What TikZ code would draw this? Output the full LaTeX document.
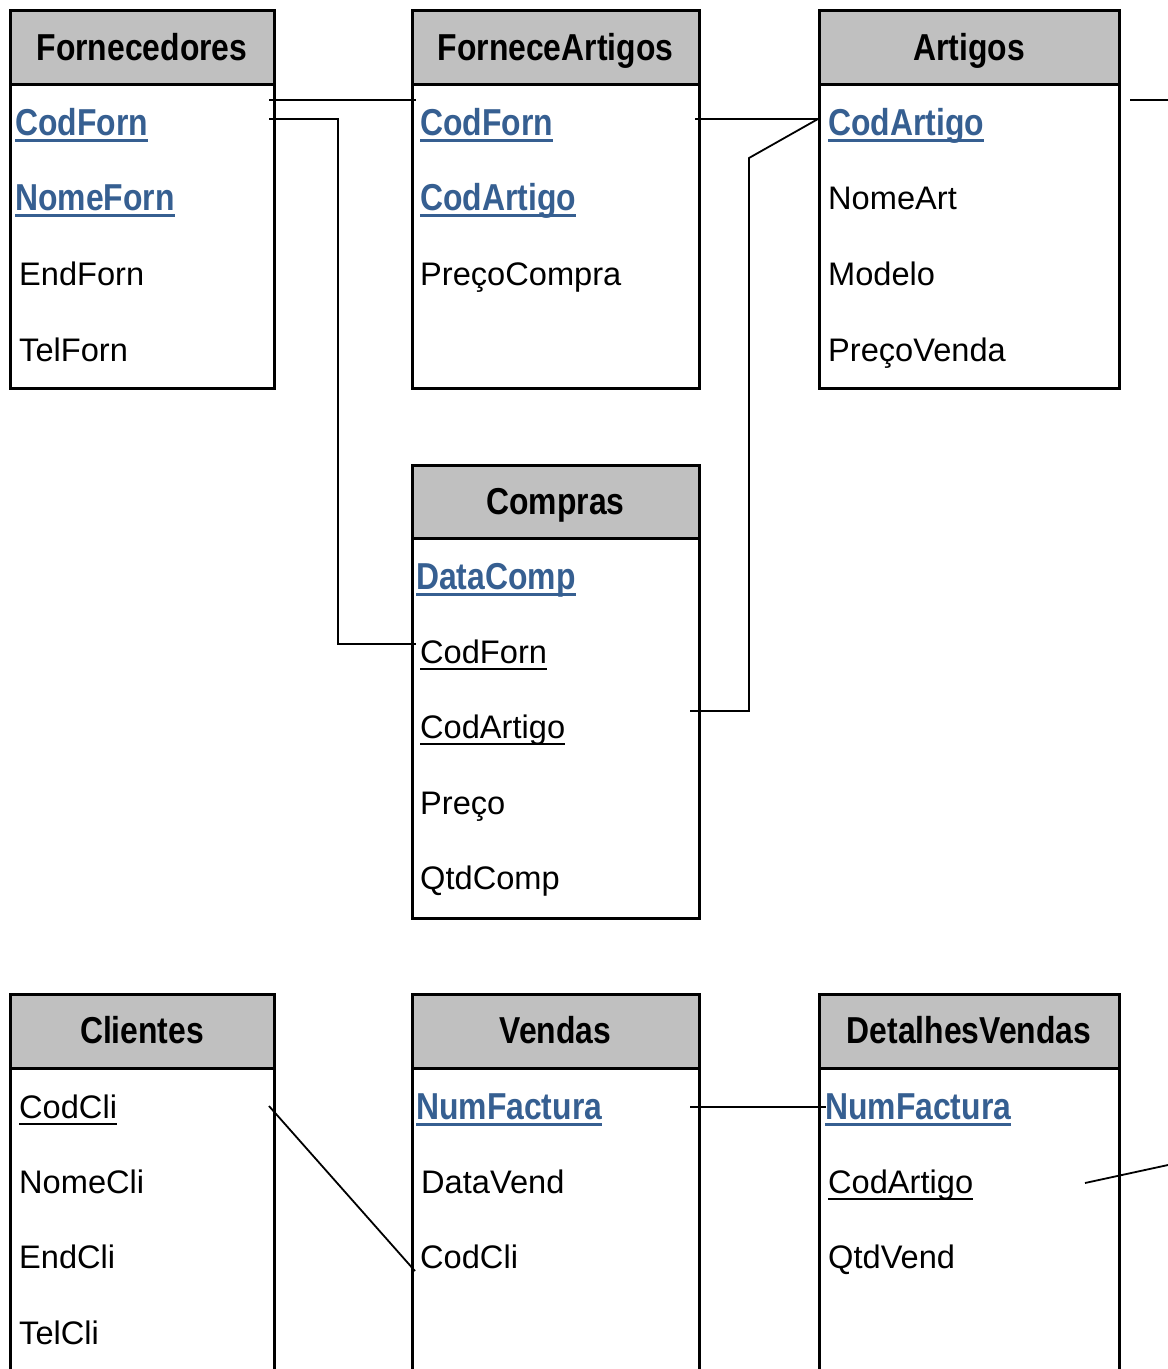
\documentclass[tikz,border=0pt]{standalone}
\usepackage{fontspec}
\setmainfont{Liberation Sans}
\newfontfamily\condfont[FakeStretch=0.85]{Liberation Sans}
\definecolor{hdrgray}{RGB}{192,192,192}
\definecolor{keyblue}{RGB}{54,95,145}
\newcommand\regfont{\fontsize{32.6}{38}\selectfont}
\newcommand\boldfont{\condfont\bfseries\fontsize{37.5}{44}\selectfont}
\tikzset{
  tbl/.style={draw, line width=3pt},
  hdr/.style={draw, fill=hdrgray, line width=3pt},
  title/.style={anchor=base, inner sep=0pt, font=\boldfont},
  fld/.style={anchor=base west, inner sep=0pt, font=\regfont},
  key/.style={anchor=base west, inner sep=0pt, font=\boldfont, text=keyblue},
  keyul/.style={draw=keyblue, line width=3pt},
  fkul/.style={draw=black, line width=2pt},
  conn/.style={line width=1.8pt}
}
\begin{document}
\begin{tikzpicture}[x=1pt,y=-1pt]
\useasboundingbox (0,0) rectangle (1168,1369);
\begin{scope}
\clip (0,0) rectangle (1168,1369);
% ---------- Fornecedores
\draw[hdr] (10,10.5) rectangle (274,84);
\draw[tbl] (10,10.5) rectangle (274,388);
\node[title] (tF) at (142,60) {Fornecedores};
\node[key] (fF1) at (15,135) {CodForn};
\node[key] (fF2) at (15,210) {NomeForn};
\node[fld] (fF3) at (19,285) {EndForn};
\node[fld] (fF4) at (19,361) {TelForn};
% ---------- ForneceArtigos
\draw[hdr] (412,10.5) rectangle (699,84);
\draw[tbl] (412,10.5) rectangle (699,388);
\node[title] (tFA) at (555.5,60) {ForneceArtigos};
\node[key] (fA1) at (420,135) {CodForn};
\node[key] (fA2) at (420,210) {CodArtigo};
\node[fld] (fA3) at (420,285) {PreçoCompra};
% ---------- Artigos
\draw[hdr] (819,10.5) rectangle (1119,84);
\draw[tbl] (819,10.5) rectangle (1119,388);
\node[title] (tAr) at (969,60) {Artigos};
\node[key] (fR1) at (828,135) {CodArtigo};
\node[fld] (fR2) at (828,209) {NomeArt};
\node[fld] (fR3) at (828,285) {Modelo};
\node[fld] (fR4) at (828,361) {PreçoVenda};
% ---------- Compras
\draw[hdr] (412,465) rectangle (699,538.5);
\draw[tbl] (412,465) rectangle (699,918);
\node[title] (tC) at (555.5,514) {Compras};
\node[key] (fC1) at (416,589) {DataComp};
\node[fld] (fC2) at (420,663) {CodForn};
\node[fld] (fC3) at (420,738) {CodArtigo};
\node[fld] (fC4) at (420,814) {Preço};
\node[fld] (fC5) at (420,889) {QtdComp};
% ---------- Clientes
\draw[hdr] (10,994) rectangle (274,1068);
\draw[tbl] (10,994) rectangle (274,1420);
\node[title] (tCl) at (142,1043) {Clientes};
\node[fld] (fL1) at (19,1118) {CodCli};
\node[fld] (fL2) at (19,1193) {NomeCli};
\node[fld] (fL3) at (19,1268) {EndCli};
\node[fld] (fL4) at (19,1344) {TelCli};
% ---------- Vendas
\draw[hdr] (412,994) rectangle (699,1068);
\draw[tbl] (412,994) rectangle (699,1420);
\node[title] (tV) at (555.5,1043) {Vendas};
\node[key] (fV1) at (416,1119) {NumFactura};
\node[fld] (fV2) at (421,1193) {DataVend};
\node[fld] (fV3) at (420,1268) {CodCli};
% ---------- DetalhesVendas
\draw[hdr] (819,994) rectangle (1119,1068);
\draw[tbl] (819,994) rectangle (1119,1420);
\node[title] (tD) at (969,1043) {DetalhesVendas};
\node[key] (fD1) at (825,1119) {NumFactura};
\node[fld] (fD2) at (828,1193) {CodArtigo};
\node[fld] (fD3) at (828,1268) {QtdVend};
% ---------- underlines
\foreach \n in {fF1,fF2,fA1,fA2,fR1,fC1,fV1,fD1}
  \draw[keyul] ([yshift=-5.5pt]\n.base west) -- ([yshift=-5.5pt]\n.base east);
\foreach \n in {fC2,fC3,fL1,fD2}
  \draw[fkul] ([yshift=-5.5pt]\n.base west) -- ([yshift=-5.5pt]\n.base east);
% ---------- connector end points
\coordinate (a1) at (269,100);  \coordinate (a2) at (416,100);
\coordinate (b1) at (269,119);  \coordinate (b2) at (416,644);
\coordinate (c1) at (695,119);  \coordinate (c2) at (818,119);
\coordinate (d1) at (690,711);
\coordinate (e1) at (1130,100); \coordinate (e2) at (1168,100);
\coordinate (g1) at (690,1107); \coordinate (g2) at (826,1107);
\coordinate (h1) at (269,1106); \coordinate (h2) at (415,1271);
\coordinate (k1) at (1085,1183); \coordinate (k2) at (1168,1165);
% ---------- connectors
\draw[conn] (a1) -- (a2);
\draw[conn] (b1) -- (338,119) -- (338,644) -- (b2);
\draw[conn] (c1) -- (c2);
\draw[conn] (d1) -- (749,711) -- (749,158) -- (c2);
\draw[conn] (e1) -- (e2);
\draw[conn] (g1) -- (g2);
\draw[conn] (h1) -- (h2);
\draw[conn] (k1) -- (k2);
\end{scope}
\end{tikzpicture}
\end{document}
